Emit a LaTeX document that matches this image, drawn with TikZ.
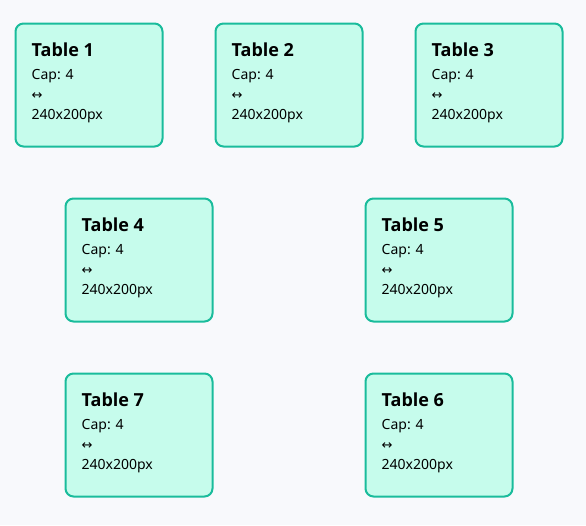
\documentclass[tikz,border=0pt]{standalone}
\usepackage{fontspec}
\setmainfont{Noto Sans}
\newfontfamily\titlefont{Open Sans}
\newfontfamily\arrowfont{DejaVu Sans}
\usetikzlibrary{calc}
\definecolor{bgc}{HTML}{F8F9FC}
\definecolor{boxfill}{HTML}{C6FCEC}
\definecolor{boxdraw}{HTML}{1ABC9C}
\tikzset{
  tablebox/.style={draw=boxdraw, fill=boxfill, line width=2pt, rounded corners=8pt,
    minimum width=147pt, minimum height=123pt, anchor=north west, inner sep=0pt},
  ttitle/.style={anchor=base west, inner sep=0pt, font=\titlefont\fontsize{18}{21}\selectfont\bfseries},
  tline/.style={anchor=base west, inner sep=0pt, font=\fontsize{14}{17}\selectfont},
}
\newcommand\drawtable[4]{%
  \node[tablebox] (#1) at (#2,#3) {};
  \node[ttitle] (#1-title) at ($(#1.north west)+(17,34)$) {#4};
  \node[tline] (#1-cap) at ($(#1.north west)+(17,57)$) {Cap: 4};
  \node[tline, font=\fontsize{13}{17}\selectfont\arrowfont] (#1-arr) at ($(#1.north west)+(17,77)$) {↔};
  \node[tline] (#1-size) at ($(#1.north west)+(17,97)$) {240x200px};
}
\begin{document}
\begin{tikzpicture}[x=1pt,y=-1pt]
\fill[bgc] (0,0) rectangle (586,525);
\useasboundingbox (0,0) rectangle (586,525);
\drawtable{t1}{14.5}{22.5}{Table 1}
\drawtable{t2}{214.5}{22.5}{Table 2}
\drawtable{t3}{414.5}{22.5}{Table 3}
\drawtable{t4}{64.5}{197.5}{Table 4}
\drawtable{t5}{364.5}{197.5}{Table 5}
\drawtable{t7}{64.5}{372.5}{Table 7}
\drawtable{t6}{364.5}{372.5}{Table 6}
\end{tikzpicture}
\end{document}
